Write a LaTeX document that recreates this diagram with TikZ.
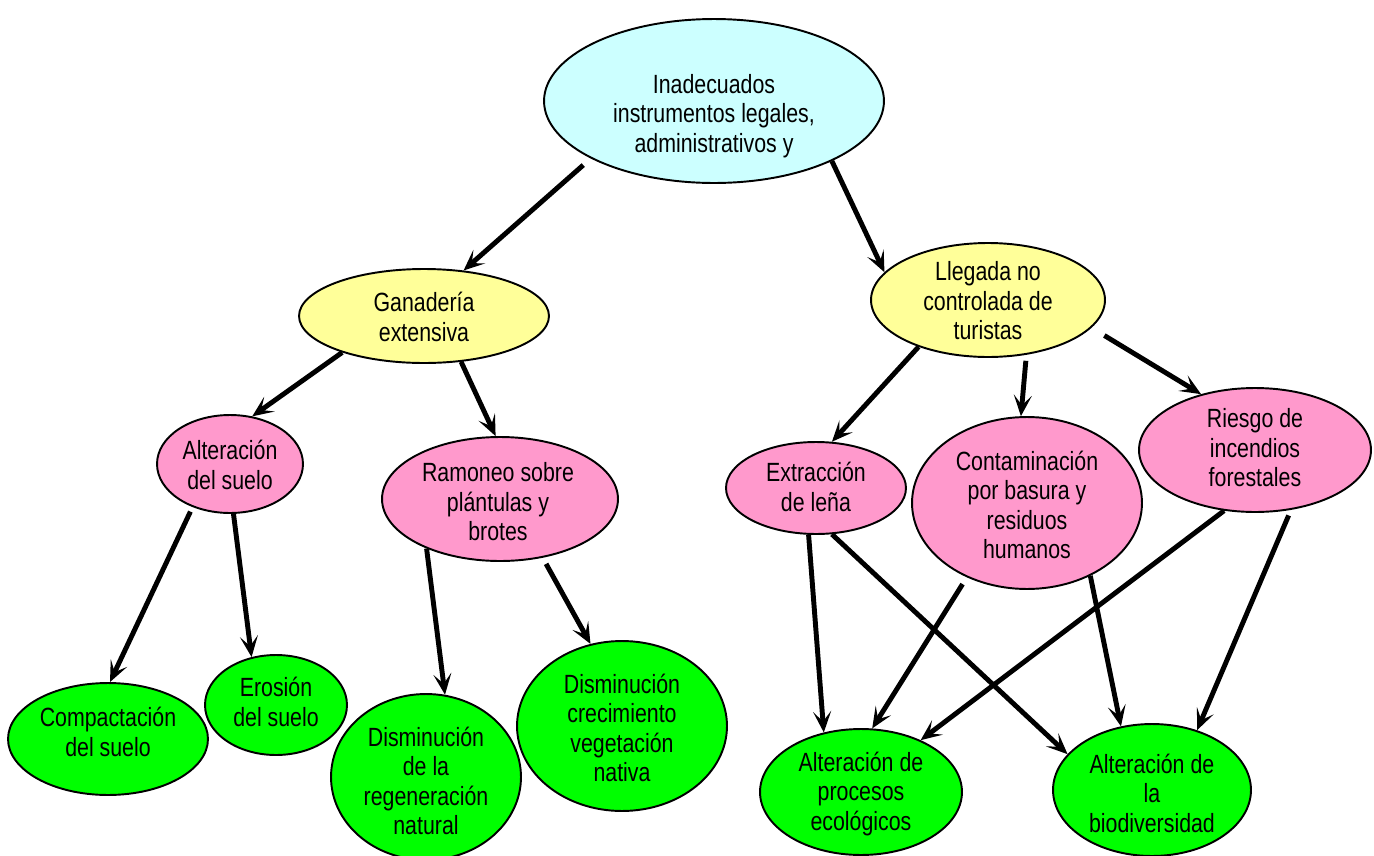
\documentclass[tikz,border=0pt]{standalone}
\usepackage{fontspec}
\setmainfont{Liberation Sans}[FakeStretch=0.81]
\usetikzlibrary{shapes.geometric,arrows.meta}
\definecolor{cyanfill}{HTML}{CCFFFF}
\definecolor{yellowfill}{HTML}{FFFF99}
\definecolor{pinkfill}{HTML}{FF99CC}
\definecolor{greenfill}{HTML}{00FF00}
\tikzset{
  bub/.style={ellipse,draw=black,line width=1.1pt,inner sep=0pt},
  cy/.style={bub,fill=cyanfill},
  ye/.style={bub,fill=yellowfill},
  pk/.style={bub,fill=pinkfill},
  gr/.style={bub,fill=greenfill},
  txt/.style={inner sep=0pt,align=center,font=\fontsize{15}{16.8}\selectfont},
  arr/.style={line width=2.8pt,-{Stealth[length=0.42cm,width=0.36cm,inset=0.2cm]}}
}
\begin{document}
\begin{tikzpicture}[x=0.02cm,y=-0.02cm]
\useasboundingbox (0,0) rectangle (1374,856);
% bubbles
\node[cy,minimum width=6.8cm,minimum height=3.28cm] (top) at (714,101) {};
\node[ye,minimum width=5.0cm,minimum height=1.88cm] (gan) at (424,316) {};
\node[ye,minimum width=4.68cm,minimum height=2.28cm] (lle) at (988,300) {};
\node[pk,minimum width=2.92cm,minimum height=1.96cm] (als) at (230,464) {};
\node[pk,minimum width=4.72cm,minimum height=2.48cm] (ram) at (500,499) {};
\node[pk,minimum width=3.6cm,minimum height=1.84cm] (ext) at (816,488) {};
\node[pk,minimum width=4.6cm,minimum height=3.44cm] (con) at (1027,503) {};
\node[pk,minimum width=4.64cm,minimum height=2.48cm] (rie) at (1255,450) {};
\node[gr,minimum width=4.0cm,minimum height=2.24cm] (com) at (108,739) {};
\node[gr,minimum width=2.84cm,minimum height=2.0cm] (ero) at (276,705) {};
\node[gr,minimum width=3.8cm,minimum height=3.32cm] (dre) at (426,777) {};
\node[gr,minimum width=4.2cm,minimum height=3.4cm] (dcr) at (622,726) {};
\node[gr,minimum width=4.04cm,minimum height=2.52cm] (apr) at (861,792) {};
\node[gr,minimum width=3.96cm,minimum height=2.64cm] (abi) at (1152,790) {};
% texts
\node[txt] (topT) at (714,116) {Inadecuados\\instrumentos legales,\\administrativos y};
\node[txt] (ganT) at (424,317) {Ganadería\\extensiva};
\node[txt] (lleT) at (988,301) {Llegada no\\controlada de\\turistas};
\node[txt] (alsT) at (230,465) {Alteración\\del suelo};
\node[txt] (ramT) at (498,502) {Ramoneo sobre\\plántulas y\\brotes};
\node[txt] (extT) at (816,487) {Extracción\\de leña};
\node[txt] (conT) at (1027,505) {Contaminación\\por basura y\\residuos\\humanos};
\node[txt] (rieT) at (1255,448) {Riesgo de\\incendios\\forestales};
\node[txt] (comT) at (108,732) {Compactación\\del suelo};
\node[txt] (eroT) at (276,702) {Erosión\\del suelo};
\node[txt] (dreT) at (426,781) {Disminución\\de la\\regeneración\\natural};
\node[txt] (dcrT) at (622,728) {Disminución\\crecimiento\\vegetación\\nativa};
\node[txt] (aprT) at (861,794) {Alteración de\\procesos\\ecológicos};
\node[txt] (abiT) at (1152,793) {Alteración de\\la\\biodiversidad};
% connectors
\draw[arr,shorten <=0.2cm] (top.205) -- (gan.49.7);
\draw[arr] (top.-27.7) -- (lle.165.7);
\draw[arr] (gan.-156.2) -- (als.65.4);
\draw[arr] (gan.-51.5) -- (ram.94.5);
\draw[arr] (lle.-146.5) -- (ext.71.6);
\draw[arr,shorten <=0.12cm] (lle.-55) -- (con.94.7);
\draw[arr,shorten <=0.3cm] (lle.-15.6) -- (rie.134.5);
\draw[arr,shorten <=0.1cm] (als.-131.7) -- (com.88);
\draw[arr] (als.-86.5) -- (ero.117);
\draw[arr] (ram.-146.7) -- (dre.77.7);
\draw[arr,shorten <=0.14cm] (ram.-54.9) -- (dcr.111.8);
\draw[arr] (ext.-99.7) -- (apr.122);
\draw[arr] (ext.-71.2) -- (abi.157.4);
\draw[arr,shorten <=0.16cm] (con.-129.1) -- (apr.80.5);
\draw[arr] (con.-49) -- (abi.116.6);
\draw[arr] (rie.-117.6) -- (apr.41.5);
\draw[arr,shorten <=0.12cm] (rie.-59.3) -- (abi.53.1);
\end{tikzpicture}
\end{document}
